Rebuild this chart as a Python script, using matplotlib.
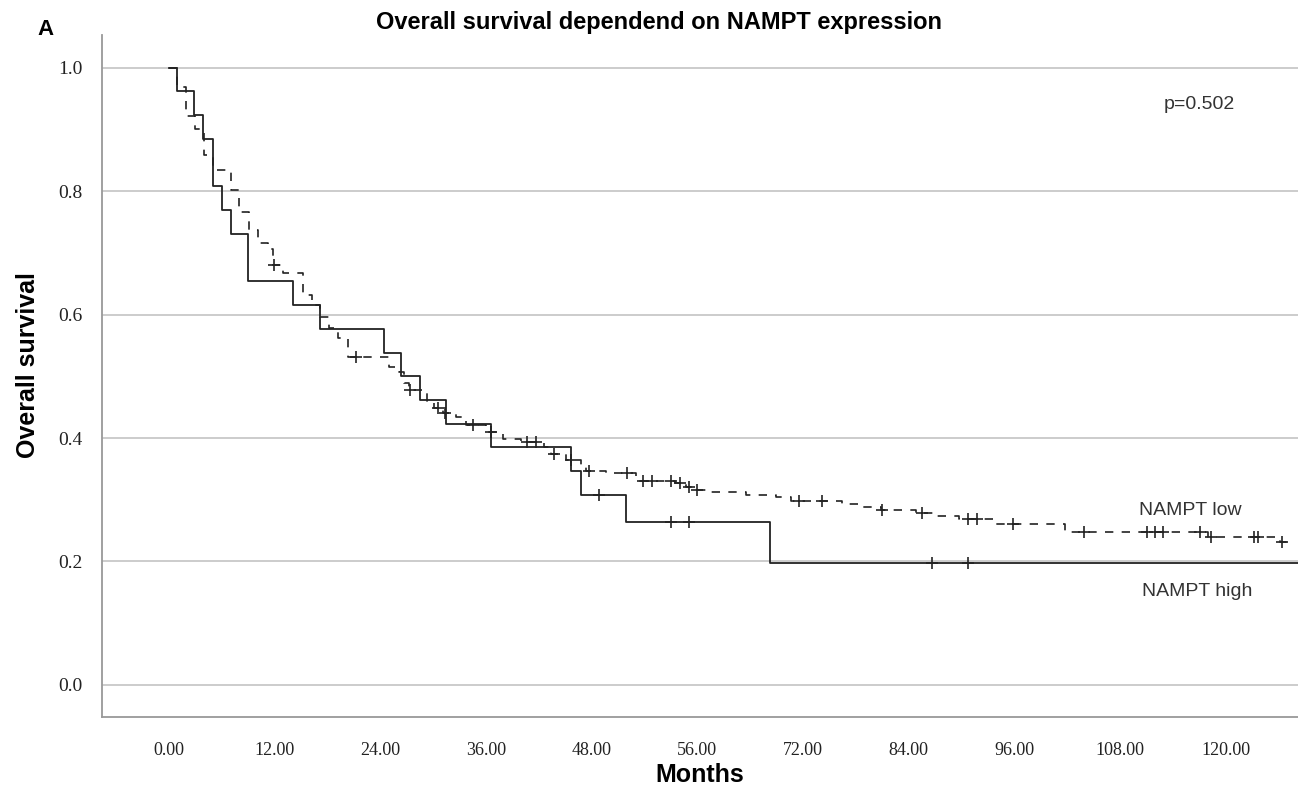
import numpy as np
import matplotlib.pyplot as plt

# Kaplan-Meier estimates (months, survival)
high_t = [0, 0.9, 2.9, 3.9, 5.0, 6.0, 7.0, 9.0, 14.1, 17.2, 24.4, 26.4, 28.5,
          31.5, 36.6, 45.7, 46.8, 51.9, 68.3]
high_s = [1.0, 0.962, 0.923, 0.885, 0.808, 0.769, 0.731, 0.654, 0.615, 0.577,
          0.538, 0.500, 0.462, 0.423, 0.385, 0.346, 0.308, 0.264, 0.198]
high_end = 135.0
high_cens = [48.8, 57.0, 59.0, 86.6, 90.7]

low_t = [0, 0.9, 1.9, 3.0, 4.0, 5.0, 7.0, 8.0, 9.1, 10.1, 11.2, 11.8, 13.0,
         15.2, 16.2, 17.2, 18.2, 19.2, 20.3, 25.0, 26.1, 26.7, 27.2, 29.3,
         30.1, 31.1, 32.6, 33.7, 36.0, 37.9, 40.0, 42.6, 43.4, 45.1, 46.8,
         47.3, 49.6, 53.0, 57.5, 58.7, 59.6, 61.0, 65.5, 68.9, 70.6, 76.4,
         78.3, 80.8, 84.8, 87.1, 89.7, 93.6, 101.8, 118.0, 126.2]
low_s = [1.0, 0.969, 0.921, 0.900, 0.859, 0.834, 0.802, 0.767, 0.737, 0.716,
         0.707, 0.681, 0.668, 0.632, 0.615, 0.596, 0.578, 0.562, 0.531, 0.515,
         0.507, 0.490, 0.478, 0.460, 0.448, 0.441, 0.434, 0.421, 0.410, 0.399,
         0.394, 0.386, 0.374, 0.365, 0.357, 0.347, 0.344, 0.331, 0.327, 0.321,
         0.316, 0.312, 0.308, 0.304, 0.298, 0.293, 0.289, 0.284, 0.278, 0.274,
         0.269, 0.261, 0.248, 0.240, 0.232]
low_end = 127.9
low_cens = [11.9, 21.2, 27.4, 30.5, 31.4, 34.5, 36.6, 40.6, 41.7, 43.7, 45.7,
            47.7, 52.0, 53.8, 54.9, 57.0, 58.0, 59.1, 60.0, 71.5, 74.2, 81.0,
            85.5, 90.7, 91.8, 95.8, 103.9, 111.0, 112.0, 112.9, 117.1, 118.3,
            123.2, 123.7, 126.4]

x_ticks = [0, 12, 24, 36, 48, 60, 72, 84, 96, 108, 120]
x_labels = ['0.00', '12.00', '24.00', '36.00', '48.00', '56.00', '72.00',
            '84.00', '96.00', '108.00', '120.00']
y_ticks = [0.0, 0.2, 0.4, 0.6, 0.8, 1.0]


def surv_at(times, surv, t):
    idx = np.searchsorted(times, t, side='right') - 1
    return np.array(surv)[idx]


fig = plt.figure(figsize=(12.98, 7.87), dpi=100)
ax = fig.add_axes([0.0786, 0.0889, 0.9214, 0.8666])

line_col = '#222222'
ax.step(high_t + [high_end], high_s + [high_s[-1]], where='post',
        color=line_col, lw=1.3, zorder=3)
ax.step(low_t + [low_end], low_s + [low_s[-1]], where='post',
        color=line_col, lw=1.2, linestyle=(0, (5, 5)), zorder=3)

ax.plot(high_cens, surv_at(high_t, high_s, high_cens), '+', color=line_col,
        ms=8, mew=1.2, zorder=4)
ax.plot(low_cens, surv_at(low_t, low_s, low_cens), '+', color=line_col,
        ms=8, mew=1.2, zorder=4)

ax.set_xlim(-7.6, 128.2)
ax.set_ylim(-0.052, 1.053)
ax.set_xticks(x_ticks)
ax.set_xticklabels(x_labels, family='Liberation Serif', fontsize=13, color='#222222')
ax.set_yticks(y_ticks)
ax.set_yticklabels(['%.1f' % v for v in y_ticks], family='Liberation Serif',
                   fontsize=14, color='#222222')
ax.tick_params(axis='both', length=0)
ax.tick_params(axis='x', pad=18)
ax.tick_params(axis='y', pad=14)

ax.grid(axis='y', color='#c8c8c8', lw=1.3)
ax.set_axisbelow(True)
for side in ['top', 'right']:
    ax.spines[side].set_visible(False)
for side in ['left', 'bottom']:
    ax.spines[side].set_color('#999999')
    ax.spines[side].set_linewidth(1.3)

ax.set_xlabel('Months', family='Liberation Sans', fontweight='bold', fontsize=18,
              va='center')
ax.xaxis.set_label_coords(0.5, -0.085)
ax.set_ylabel('Overall survival', family='Liberation Sans', fontweight='bold',
              fontsize=18, va='center')
ax.yaxis.set_label_coords(-0.062, 0.516)

fig.text(0.508, 0.972, 'Overall survival dependend on NAMPT expression',
         family='Liberation Sans', fontweight='bold', fontsize=17,
         ha='center', va='center')
fig.text(0.035, 0.963, 'A', family='Liberation Sans', fontweight='bold',
         fontsize=16, ha='center', va='center')

ax.text(117, 0.94, 'p=0.502', family='Liberation Sans', fontsize=14,
        color='#333333', ha='center', va='center')
ax.text(116, 0.282, 'NAMPT low', family='Liberation Sans', fontsize=14,
        color='#333333', ha='center', va='center')
ax.text(116.8, 0.152, 'NAMPT high', family='Liberation Sans', fontsize=14,
        color='#333333', ha='center', va='center')

fig.savefig('out.png', dpi=100)
